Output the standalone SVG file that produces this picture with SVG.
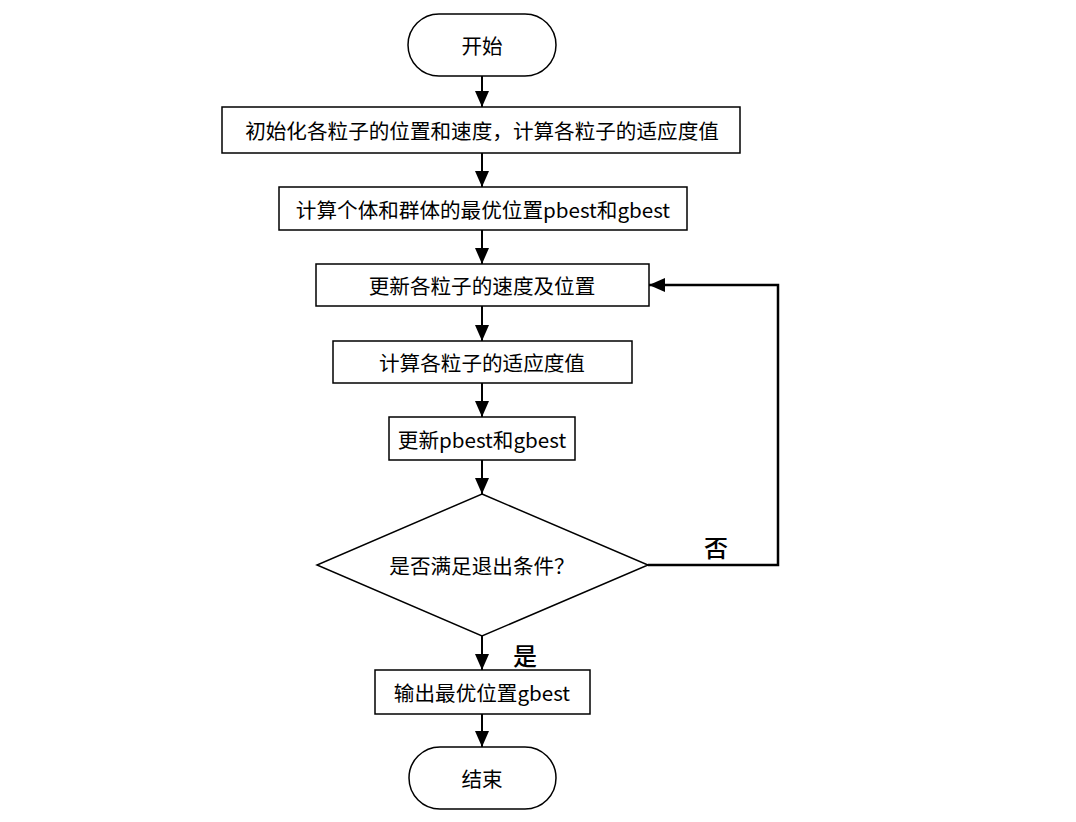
<svg xmlns="http://www.w3.org/2000/svg" width="1076" height="822" viewBox="0 0 1076 822">
<style>
.n{fill:#fff;stroke:#000;stroke-width:1.5}
.t{font-family:"Noto Sans CJK SC","Noto Sans",sans-serif;font-size:20.6px;fill:#000;text-anchor:middle;dominant-baseline:central}
.l{font-family:"Noto Sans CJK SC",sans-serif;font-size:24px;font-weight:500;fill:#000;text-anchor:middle;dominant-baseline:central}
.c{fill:none;stroke:#000;stroke-width:2}
</style>
<defs>
<marker id="ah" viewBox="0 0 16 14" refX="16" refY="7" markerWidth="16" markerHeight="14" orient="auto" markerUnits="userSpaceOnUse">
<path d="M0,0 L16,7 L0,14 Z" fill="#000"/>
</marker>
</defs>
<rect width="1076" height="822" fill="#fff"/>
<g id="connectors">
<line class="c" x1="482" y1="76" x2="482" y2="107" marker-end="url(#ah)"/>
<line class="c" x1="482" y1="153" x2="482" y2="187" marker-end="url(#ah)"/>
<line class="c" x1="482" y1="230" x2="482" y2="264" marker-end="url(#ah)"/>
<line class="c" x1="482" y1="306" x2="482" y2="341" marker-end="url(#ah)"/>
<line class="c" x1="482" y1="383" x2="482" y2="417" marker-end="url(#ah)"/>
<line class="c" x1="482" y1="460" x2="482" y2="494" marker-end="url(#ah)"/>
<line class="c" x1="482" y1="636" x2="482" y2="670" marker-end="url(#ah)"/>
<line class="c" x1="482" y1="714" x2="482" y2="747" marker-end="url(#ah)"/>
<polyline class="c" style="stroke-width:2.5" points="648,565 778,565 778,285 649,285" marker-end="url(#ah)"/>
<text class="l" x="716" y="546">否</text>
<text class="l" x="525" y="654">是</text>
</g>
<g id="start">
<rect class="n" x="408" y="14" width="148" height="62" rx="31"/>
<text class="t" x="482" y="45">开始</text>
</g>
<g id="init">
<rect class="n" x="222" y="107" width="518" height="46"/>
<text class="t" x="482" y="130">初始化各粒子的位置和速度，计算各粒子的适应度值</text>
</g>
<g id="best">
<rect class="n" x="279" y="187" width="408" height="43"/>
<text class="t" x="483" y="208.500">计算个体和群体的最优位置pbest和gbest</text>
</g>
<g id="update">
<rect class="n" x="316" y="264" width="333" height="42"/>
<text class="t" x="482" y="285">更新各粒子的速度及位置</text>
</g>
<g id="fitness">
<rect class="n" x="333" y="341" width="299" height="42"/>
<text class="t" x="482" y="362">计算各粒子的适应度值</text>
</g>
<g id="updbest">
<rect class="n" x="389" y="417" width="186" height="43"/>
<text class="t" x="482" y="438.500">更新pbest和gbest</text>
</g>
<g id="cond">
<polygon class="n" points="482,494 648,565 482,636 317,565"/>
<text class="t" x="482" y="565">是否满足退出条件？</text>
</g>
<g id="output">
<rect class="n" x="375" y="670" width="215" height="44"/>
<text class="t" x="482" y="692">输出最优位置gbest</text>
</g>
<g id="end">
<rect class="n" x="409" y="747" width="147" height="62" rx="31"/>
<text class="t" x="482" y="778">结束</text>
</g>
</svg>
